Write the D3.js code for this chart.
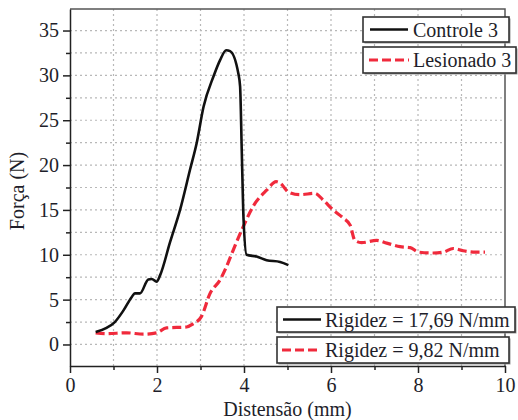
<!DOCTYPE html>
<html>
<head>
<meta charset="utf-8">
<script src="https://cdn.jsdelivr.net/npm/d3@7"></script>
<style>
  body { margin: 0; background: #fff; }
  svg text { font-family: "Liberation Serif", "Times New Roman", serif; fill: #1e1e2a; }
</style>
</head>
<body>
<div id="chart"></div>
<script>
// Controle 3 (black line)
var controleX = [0.59, 0.84, 1.03, 1.23, 1.42, 1.49, 1.61, 1.80, 1.88, 1.99, 2.07, 2.30, 2.53, 2.76, 2.91, 3.07, 3.30, 3.45, 3.59, 3.68, 3.87, 3.91, 3.95, 3.99, 4.06, 4.29, 4.52, 4.83, 5.02];
var controleY = [1.4, 1.85, 2.5, 3.8, 5.3, 5.7, 5.7, 7.25, 7.3, 7.0, 7.7, 11.4, 15.0, 19.5, 22.4, 26.5, 29.9, 31.7, 32.8, 32.7, 30.2, 28.8, 21.3, 13.9, 10.0, 9.8, 9.4, 9.2, 8.85];

// Lesionado 3 (red dashed)
var lesionadoX = [0.59, 0.84, 1.30, 1.69, 1.99, 2.22, 2.68, 2.83, 3.02, 3.22, 3.45, 3.60, 3.75, 3.98, 4.21, 4.52, 4.74, 4.83, 5.02, 5.29, 5.63, 5.82, 6.05, 6.28, 6.44, 6.55, 6.70, 7.05, 7.28, 7.59, 7.82, 8.01, 8.35, 8.58, 8.81, 9.04, 9.27, 9.54];
var lesionadoY = [1.3, 1.2, 1.3, 1.15, 1.3, 1.85, 1.95, 2.3, 3.1, 5.7, 7.2, 8.7, 10.5, 13.1, 15.4, 17.2, 18.15, 18.0, 17.0, 16.7, 16.85, 16.1, 15.0, 14.1, 13.3, 11.6, 11.35, 11.6, 11.3, 10.9, 10.8, 10.3, 10.2, 10.3, 10.7, 10.45, 10.3, 10.3];

var xTicks = [0, 2, 4, 6, 8, 10];
var xMinor = [1, 3, 5, 7, 9];
var yTicks = [0, 5, 10, 15, 20, 25, 30, 35];
var yMinor = [2.5, 7.5, 12.5, 17.5, 22.5, 27.5, 32.5];

var legendTop = ["Controle 3", "Lesionado 3"];
var legendBottom = ["Rigidez = 17,69 N/mm", "Rigidez = 9,82 N/mm"];

var red = "#f02a3c";
var serif = "'Liberation Serif', 'Times New Roman', serif";

var svg = d3.select("#chart").append("svg")
    .attr("width", 518)
    .attr("height", 420)
    .attr("font-family", serif);

var plot = {left: 70, right: 505, top: 9, bottom: 366};

var x = d3.scaleLinear().domain([0, 10]).range([plot.left, plot.right]);
var y = d3.scaleLinear().domain([-2.4, 37.4]).range([plot.bottom, plot.top]);

// grid
var grid = svg.append("g")
    .attr("stroke", "#b8b8b8")
    .attr("stroke-width", 1.2)
    .attr("stroke-dasharray", "2,3");
grid.selectAll(".gx")
  .data(xTicks.concat(xMinor).filter(function(d) { return d > 0 && d < 10; }))
  .enter().append("line")
    .attr("x1", function(d) { return x(d); })
    .attr("x2", function(d) { return x(d); })
    .attr("y1", plot.top)
    .attr("y2", plot.bottom);
grid.selectAll(".gy")
  .data(yTicks.concat(yMinor))
  .enter().append("line")
    .attr("y1", function(d) { return y(d); })
    .attr("y2", function(d) { return y(d); })
    .attr("x1", plot.left)
    .attr("x2", plot.right);

// frame top / right
svg.append("path")
  .attr("d", "M" + plot.left + "," + plot.top + "H" + plot.right + "V" + plot.bottom)
  .attr("fill", "none")
  .attr("stroke", "#555")
  .attr("stroke-width", 1.5);

// axes
var xAxis = svg.append("g")
    .attr("transform", "translate(0," + plot.bottom + ")")
    .call(d3.axisBottom(x).tickValues(xTicks).tickSize(7).tickSizeOuter(0).tickPadding(5));
var xMinorAxis = svg.append("g")
    .attr("transform", "translate(0," + plot.bottom + ")")
    .call(d3.axisBottom(x).tickValues(xMinor).tickSize(4).tickSizeOuter(0).tickFormat(""));
var yAxis = svg.append("g")
    .attr("transform", "translate(" + plot.left + ",0)")
    .call(d3.axisLeft(y).tickValues(yTicks).tickSize(7).tickSizeOuter(0).tickPadding(4));
var yMinorAxis = svg.append("g")
    .attr("transform", "translate(" + plot.left + ",0)")
    .call(d3.axisLeft(y).tickValues(yMinor).tickSize(4).tickSizeOuter(0).tickFormat(""));

svg.selectAll(".domain, .tick line")
  .attr("stroke", "#222")
  .attr("stroke-width", 1.5);
xMinorAxis.select(".domain").remove();
yMinorAxis.select(".domain").remove();
[xAxis, yAxis, xMinorAxis, yMinorAxis].forEach(function(a) {
  a.attr("font-family", serif).attr("font-size", 20);
});
svg.selectAll(".tick text").attr("fill", "#1e1e2a");

// axis titles
svg.append("text")
  .attr("x", (plot.left + plot.right) / 2)
  .attr("y", 416)
  .attr("text-anchor", "middle")
  .attr("font-size", 20)
  .text("Distensão (mm)");
svg.append("text")
  .attr("transform", "translate(24,191) rotate(-90)")
  .attr("text-anchor", "middle")
  .attr("font-size", 20)
  .text("Força (N)");

// curves
var line = d3.line()
    .x(function(d) { return x(d[0]); })
    .y(function(d) { return y(d[1]); })
    .curve(d3.curveMonotoneX);

svg.append("path")
  .datum(d3.zip(lesionadoX, lesionadoY))
  .attr("d", line)
  .attr("fill", "none")
  .attr("stroke", red)
  .attr("stroke-width", 3.2)
  .attr("stroke-dasharray", "9,4");

svg.append("path")
  .datum(d3.zip(controleX, controleY))
  .attr("d", line)
  .attr("fill", "none")
  .attr("stroke", "#111")
  .attr("stroke-width", 2.6)
  .attr("stroke-linejoin", "round");

// legend boxes
function legendBox(bx, by, bw, bh, label, dashed, lx0, lx1, tx) {
  var g = svg.append("g");
  g.append("rect")
    .attr("x", bx + 1.5).attr("y", by + 1.5)
    .attr("width", bw).attr("height", bh)
    .attr("fill", "#999");
  g.append("rect")
    .attr("x", bx).attr("y", by)
    .attr("width", bw).attr("height", bh)
    .attr("fill", "#fff")
    .attr("stroke", "#333")
    .attr("stroke-width", 1.6);
  g.append("line")
    .attr("x1", lx0).attr("x2", lx1)
    .attr("y1", by + bh / 2).attr("y2", by + bh / 2)
    .attr("stroke", dashed ? red : "#111")
    .attr("stroke-width", dashed ? 3.2 : 2.6)
    .attr("stroke-dasharray", dashed ? "9,4" : null);
  g.append("text")
    .attr("x", tx)
    .attr("y", by + bh / 2 + 7)
    .attr("font-size", 20)
    .text(label);
}

legendBox(363, 17, 146, 25, legendTop[0], false, 370, 408, 413);
legendBox(363, 47, 153, 26, legendTop[1], true, 369, 409, 413);
legendBox(277, 307, 238, 25, legendBottom[0], false, 283, 321, 325);
legendBox(277, 337, 232, 26, legendBottom[1], true, 282, 321, 325);
</script>
</body>
</html>
